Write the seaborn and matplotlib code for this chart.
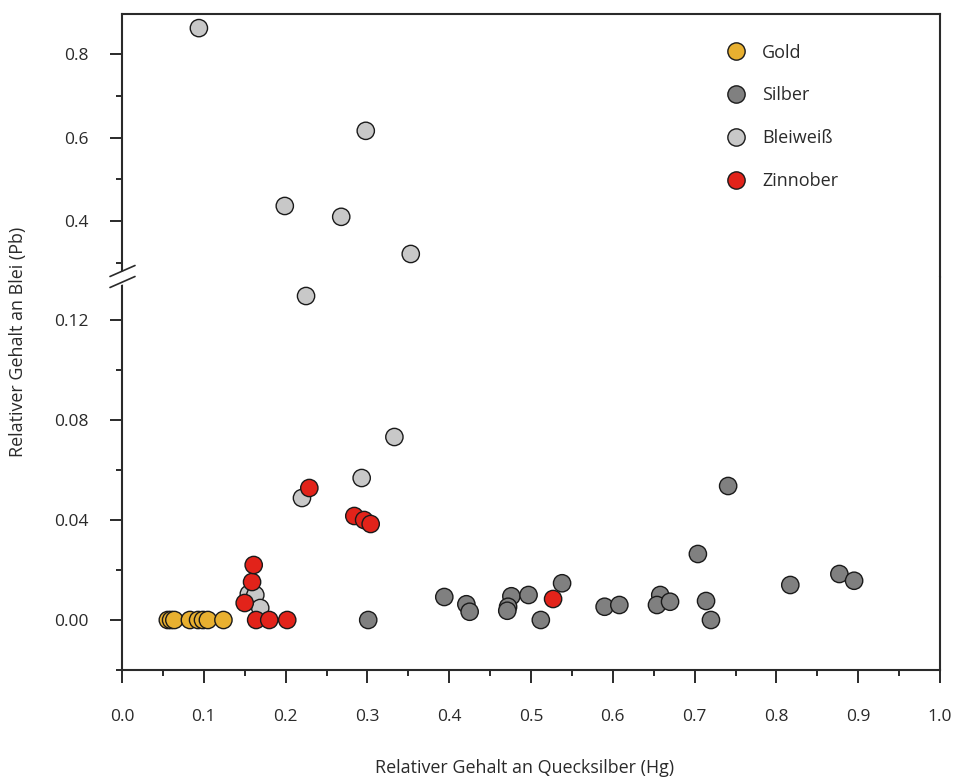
import matplotlib
matplotlib.use("Agg")
import matplotlib.pyplot as plt
from matplotlib.lines import Line2D
from matplotlib.ticker import FixedLocator, FixedFormatter
import numpy as np
import pandas as pd
import seaborn as sns

# ---------------- data ----------------
gold_hg = [0.056, 0.060, 0.064, 0.083, 0.093, 0.099, 0.105, 0.124]
gold_pb = [0.000, 0.000, 0.000, 0.000, 0.000, 0.000, 0.000, 0.000]

silber_hg = [0.301, 0.394, 0.421, 0.425, 0.476, 0.472, 0.471, 0.497, 0.512, 0.538,
             0.590, 0.608, 0.658, 0.654, 0.670, 0.704, 0.714, 0.720, 0.741, 0.817,
             0.877, 0.895]
silber_pb = [0.000, 0.0092, 0.0063, 0.0033, 0.0095, 0.0053, 0.0037, 0.0100, 0.000, 0.0147,
             0.0053, 0.0060, 0.0100, 0.0060, 0.0073, 0.0264, 0.0076, 0.000, 0.0536, 0.0140,
             0.0184, 0.0157]

bleiweiss_hg = [0.094, 0.298, 0.199, 0.268, 0.353, 0.225, 0.333, 0.293, 0.220,
                0.155, 0.163, 0.169]
bleiweiss_pb = [0.862, 0.616, 0.436, 0.410, 0.321, 0.1296, 0.0732, 0.0568, 0.0488,
                0.0104, 0.0100, 0.0048]

zinnober_hg = [0.150, 0.159, 0.161, 0.164, 0.180, 0.202, 0.229, 0.284, 0.296, 0.304, 0.527]
zinnober_pb = [0.0068, 0.0152, 0.0220, 0.000, 0.000, 0.000, 0.0528, 0.0416, 0.0400,
               0.0384, 0.0084]

categories = ["Gold", "Silber", "Bleiweiß", "Zinnober"]
colors = ["#E8B030", "#808080", "#C8C8C8", "#E2231A"]

x_major = [0.0, 0.1, 0.2, 0.3, 0.4, 0.5, 0.6, 0.7, 0.8, 0.9, 1.0]
x_labels = ["0.0", "0.1", "0.2", "0.3", "0.4", "0.5", "0.6", "0.7", "0.8", "0.9", "1.0"]
x_minor = [0.05, 0.15, 0.25, 0.35, 0.45, 0.55, 0.65, 0.75, 0.85, 0.95]

low_major = [0.00, 0.04, 0.08, 0.12]
low_labels = ["0.00", "0.04", "0.08", "0.12"]
low_minor = [-0.02, 0.02, 0.06, 0.10]

up_major = [0.4, 0.6, 0.8]
up_labels = ["0.4", "0.6", "0.8"]
up_minor = [0.3, 0.5, 0.7]

xlabel = "Relativer Gehalt an Quecksilber (Hg)"
ylabel = "Relativer Gehalt an Blei (Pb)"

df = pd.concat([
    pd.DataFrame({"Hg": gold_hg, "Pb": gold_pb, "Material": "Gold"}),
    pd.DataFrame({"Hg": silber_hg, "Pb": silber_pb, "Material": "Silber"}),
    pd.DataFrame({"Hg": bleiweiss_hg, "Pb": bleiweiss_pb, "Material": "Bleiweiß"}),
    pd.DataFrame({"Hg": zinnober_hg, "Pb": zinnober_pb, "Material": "Zinnober"}),
], ignore_index=True)

# ---------------- style ----------------
sns.set_theme(style="white")
plt.rcParams["font.family"] = ["Open Sans", "DejaVu Sans"]
TXT = "#2a2a2a"
SP = "#2a2a2a"

W, H = 957, 778
fig = plt.figure(figsize=(W / 100, H / 100), dpi=100)


def fx(px):
    return px / W


def fy(py):
    return 1 - py / H


L, R, T, B, M = 122, 940, 14, 670, 277
ax_top = fig.add_axes([fx(L), fy(M), fx(R) - fx(L), fy(T) - fy(M)])
ax_bot = fig.add_axes([fx(L), fy(B), fx(R) - fx(L), fy(M) - fy(B)])

palette = dict(zip(categories, colors))
for ax in (ax_top, ax_bot):
    sns.scatterplot(data=df, x="Hg", y="Pb", hue="Material", hue_order=categories,
                    palette=palette, s=155, edgecolor="#1a1a1a", linewidth=1.0,
                    ax=ax, legend=(ax is ax_top), zorder=3)
    ax.set_xlim(0, 1.0)
    ax.set_xlabel("")
    ax.set_ylabel("")
    ax.set_facecolor("white")
    for s in ax.spines.values():
        s.set_linewidth(1.5)
        s.set_color(SP)
    ax.tick_params(which="both", direction="out", color=SP, width=1.4,
                   labelcolor=TXT, labelsize=12.5)
    ax.tick_params(which="major", length=9)
    ax.tick_params(which="minor", length=4.5)

ax_top.set_ylim(0.8 - (M - 54) / 417.5, 0.8 + (54 - T) / 417.5)
ax_bot.set_ylim(-0.02, (620 - M) / 2500)

ax_top.spines["bottom"].set_visible(False)
ax_bot.spines["top"].set_visible(False)

ax_top.yaxis.set_major_locator(FixedLocator(up_major))
ax_top.yaxis.set_major_formatter(FixedFormatter(up_labels))
ax_top.yaxis.set_minor_locator(FixedLocator(up_minor))
ax_top.tick_params(axis="x", which="both", bottom=False, labelbottom=False)
ax_top.tick_params(axis="y", which="both", left=True, pad=15)

ax_bot.yaxis.set_major_locator(FixedLocator(low_major))
ax_bot.yaxis.set_major_formatter(FixedFormatter(low_labels))
ax_bot.yaxis.set_minor_locator(FixedLocator(low_minor))
ax_bot.tick_params(axis="y", which="both", left=True, pad=15)
ax_bot.xaxis.set_major_locator(FixedLocator(x_major))
ax_bot.xaxis.set_major_formatter(FixedFormatter(x_labels))
ax_bot.xaxis.set_minor_locator(FixedLocator(x_minor))
ax_bot.tick_params(axis="x", which="both", bottom=True, pad=19)

# legend
handles, labels = ax_top.get_legend_handles_labels()
for h in handles:
    h.set_markeredgecolor("#1a1a1a")
    h.set_markeredgewidth(1.0)
ax_top.legend(handles, labels, loc="upper left",
              bbox_to_anchor=(fx(725), fy(43.5)), bbox_transform=fig.transFigure,
              frameon=False, fontsize=13, labelspacing=1.38, handlelength=1.2,
              handletextpad=0.85, borderpad=0, borderaxespad=0,
              labelcolor=TXT)

# axis break marks on the left spine
fig.add_artist(Line2D([fx(L - 1), fx(L - 1)], [fy(272.5), fy(281.5)],
                      transform=fig.transFigure, color="white", lw=3.5, zorder=5))
for off in (0, 11):
    fig.add_artist(Line2D([fx(110), fx(135)], [fy(276.5 + off), fy(265.5 + off)],
                          transform=fig.transFigure, color=SP, lw=1.2, zorder=6))

fig.text(fx(18), fy(342), ylabel, rotation=90, ha="center", va="center",
         fontsize=12.9, color=TXT)
fig.text(fx(525), fy(768), xlabel, ha="center", va="center", fontsize=12.9, color=TXT)

fig.savefig("out.png", dpi=100, facecolor="white")
